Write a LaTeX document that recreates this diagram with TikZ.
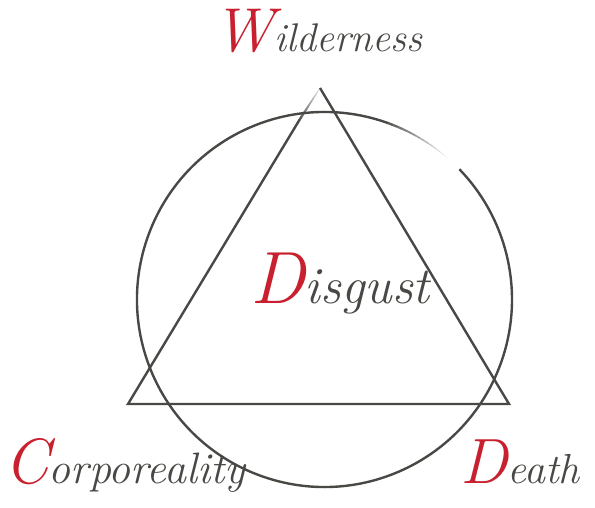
\documentclass[tikz,border=0pt]{standalone}
\usetikzlibrary{calc}
\definecolor{inkgray}{HTML}{4A4845}
\definecolor{accent}{HTML}{C8202E}
\newcommand{\capred}[2]{{\color{accent}\fontsize{#1}{#1}\selectfont #2}}
\tikzset{
  shapeline/.style={draw=inkgray, line width=2.4pt},
  word/.style={text=inkgray, font=\itshape, inner sep=0pt, anchor=base},
}
\begin{document}
\begin{tikzpicture}[x=1pt,y=1pt]
\useasboundingbox (0,0) rectangle (595,507);
% triangle corners
\coordinate (apex) at (320,419);
\coordinate (bl) at (128,103);
\coordinate (br) at (509,103);
\coordinate (fadestart) at (300,388);
\coordinate (ctr) at (324.5,207.5);
% triangle
\draw[shapeline, line join=miter] (apex) -- (br) -- (bl) -- (fadestart);
\foreach \i in {0,...,11}{
  \pgfmathsetmacro{\op}{0.9-0.07*\i}
  \draw[draw=inkgray, line width=2.4pt-\i*0.12pt, opacity=\op]
    ($(fadestart)!\i/12!(apex)$) -- ($(fadestart)!{(\i+1)/12}!(apex)$);
}
% circle
\draw[shapeline] ($(ctr)+(70:187.5)$) arc[start angle=70, end angle=404, radius=187.5];
\foreach \i in {0,...,13}{
  \pgfmathsetmacro{\op}{0.9-0.065*\i}
  \pgfmathsetmacro{\sa}{70-1.5*\i}
  \pgfmathsetmacro{\ea}{70-1.5*(\i+1)}
  \draw[draw=inkgray, line width=2.4pt-\i*0.12pt, opacity=\op]
    ($(ctr)+(\sa:187.5)$) arc[start angle=\sa, end angle=\ea, radius=187.5];
}
% labels
\node[word, font=\fontsize{40}{44}\selectfont\itshape] (wild) at (318,455) {\capred{62}{W}ilderness};
\node[word, font=\fontsize{52}{56}\selectfont\itshape] (disg) at (340,204) {\capred{74}{D}isgust};
\node[word, font=\fontsize{44}{48}\selectfont\itshape] (corp) at (125,24) {\capred{64}{C}orporeality};
\node[word, font=\fontsize{42}{46}\selectfont\itshape] (death) at (520,24) {\capred{64}{D}eath};
\end{tikzpicture}
\end{document}
